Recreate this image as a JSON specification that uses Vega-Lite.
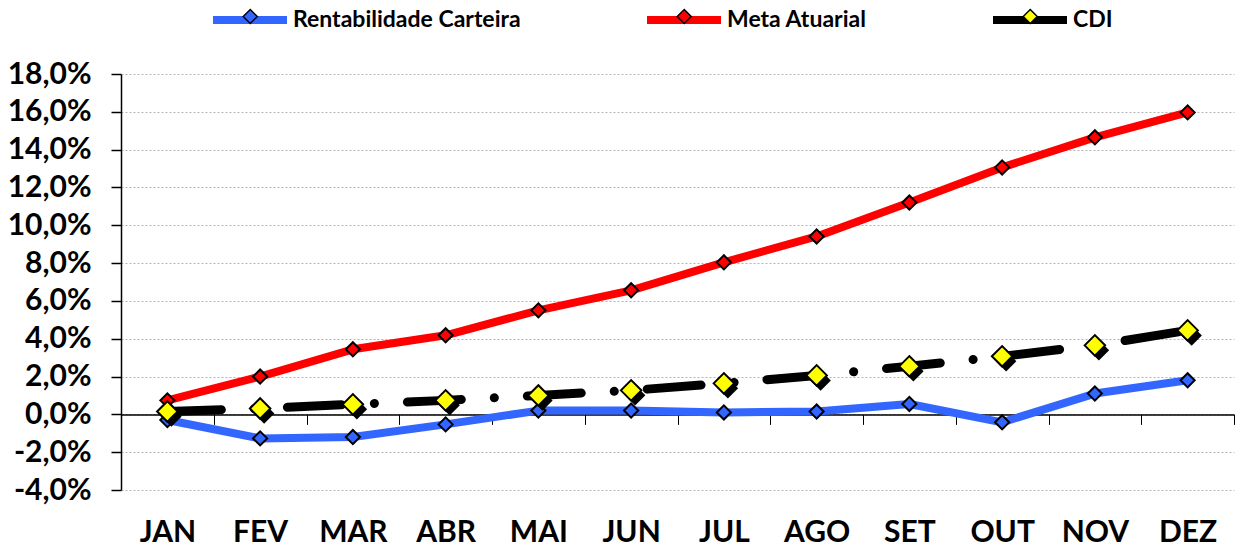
{
  "$schema": "https://vega.github.io/schema/vega-lite/v6.json",
  "width": 1113,
  "height": 416,
  "autosize": "none",
  "padding": {"left": 121, "top": 74, "right": 3, "bottom": 59},
  "background": "white",
  "config": {"view": {"stroke": null}, "font": "Lato"},
  "data": {
    "values": [
      {"mes": "JAN", "serie": "Rentabilidade Carteira", "valor": -0.3},
      {"mes": "FEV", "serie": "Rentabilidade Carteira", "valor": -1.27},
      {"mes": "MAR", "serie": "Rentabilidade Carteira", "valor": -1.2},
      {"mes": "ABR", "serie": "Rentabilidade Carteira", "valor": -0.53},
      {"mes": "MAI", "serie": "Rentabilidade Carteira", "valor": 0.2},
      {"mes": "JUN", "serie": "Rentabilidade Carteira", "valor": 0.2},
      {"mes": "JUL", "serie": "Rentabilidade Carteira", "valor": 0.1},
      {"mes": "AGO", "serie": "Rentabilidade Carteira", "valor": 0.15},
      {"mes": "SET", "serie": "Rentabilidade Carteira", "valor": 0.55},
      {"mes": "OUT", "serie": "Rentabilidade Carteira", "valor": -0.42},
      {"mes": "NOV", "serie": "Rentabilidade Carteira", "valor": 1.1},
      {"mes": "DEZ", "serie": "Rentabilidade Carteira", "valor": 1.8},
      {"mes": "JAN", "serie": "Meta Atuarial", "valor": 0.74},
      {"mes": "FEV", "serie": "Meta Atuarial", "valor": 2.0},
      {"mes": "MAR", "serie": "Meta Atuarial", "valor": 3.44},
      {"mes": "ABR", "serie": "Meta Atuarial", "valor": 4.18},
      {"mes": "MAI", "serie": "Meta Atuarial", "valor": 5.5},
      {"mes": "JUN", "serie": "Meta Atuarial", "valor": 6.56},
      {"mes": "JUL", "serie": "Meta Atuarial", "valor": 8.04},
      {"mes": "AGO", "serie": "Meta Atuarial", "valor": 9.41},
      {"mes": "SET", "serie": "Meta Atuarial", "valor": 11.2},
      {"mes": "OUT", "serie": "Meta Atuarial", "valor": 13.06},
      {"mes": "NOV", "serie": "Meta Atuarial", "valor": 14.65},
      {"mes": "DEZ", "serie": "Meta Atuarial", "valor": 15.97},
      {"mes": "JAN", "serie": "CDI", "valor": 0.15},
      {"mes": "FEV", "serie": "CDI", "valor": 0.31},
      {"mes": "MAR", "serie": "CDI", "valor": 0.53},
      {"mes": "ABR", "serie": "CDI", "valor": 0.74},
      {"mes": "MAI", "serie": "CDI", "valor": 1.0},
      {"mes": "JUN", "serie": "CDI", "valor": 1.27},
      {"mes": "JUL", "serie": "CDI", "valor": 1.64},
      {"mes": "AGO", "serie": "CDI", "valor": 2.06},
      {"mes": "SET", "serie": "CDI", "valor": 2.54},
      {"mes": "OUT", "serie": "CDI", "valor": 3.07},
      {"mes": "NOV", "serie": "CDI", "valor": 3.65},
      {"mes": "DEZ", "serie": "CDI", "valor": 4.44}
    ]
  },
  "encoding": {
    "x": {
      "field": "mes",
      "type": "ordinal",
      "sort": ["JAN", "FEV", "MAR", "ABR", "MAI", "JUN", "JUL", "AGO", "SET", "OUT", "NOV", "DEZ"],
      "scale": {"type": "band", "paddingInner": 0, "paddingOuter": 0},
      "axis": {
        "title": null,
        "orient": "bottom",
        "offset": -75.6,
        "domain": true,
        "domainColor": "black",
        "domainWidth": 1.5,
        "ticks": true,
        "tickBand": "extent",
        "tickColor": "black",
        "tickSize": 10,
        "tickWidth": 1,
        "grid": false,
        "labelAngle": 0,
        "labelFont": "Lato",
        "labelFontSize": 30,
        "labelFontWeight": "bold",
        "labelColor": "black",
        "labelPadding": 93
      }
    },
    "y": {
      "field": "valor",
      "type": "quantitative",
      "scale": {"domain": [-4, 18], "nice": false, "zero": false},
      "axis": {
        "title": null,
        "values": [-4, -2, 0, 2, 4, 6, 8, 10, 12, 14, 16, 18],
        "domain": true,
        "domainColor": "black",
        "domainWidth": 1.5,
        "ticks": true,
        "tickColor": "black",
        "tickSize": 10,
        "tickWidth": 1.5,
        "grid": true,
        "gridColor": "#b4b4b4",
        "gridDash": [2, 2],
        "gridWidth": 1,
        "labelFont": "Lato",
        "labelFontSize": 30,
        "labelFontWeight": "bold",
        "labelColor": "black",
        "labelPadding": 20,
        "labelExpr": "replace(replace(format(datum.value, '.1f'), '.', ','), '\u2212', '-') + '%'"
      }
    }
  },
  "resolve": {"scale": {"fill": "independent"}, "legend": {"fill": "independent"}},
  "layer": [
    {
      "transform": [{"filter": "datum.serie !== 'CDI'"}],
      "mark": {"type": "line", "strokeWidth": 8, "strokeCap": "round", "strokeJoin": "round"},
      "encoding": {
        "color": {
          "field": "serie",
          "type": "nominal",
          "scale": {
            "domain": ["Rentabilidade Carteira", "Meta Atuarial", "CDI"],
            "range": ["#3366ff", "#ff0000", "#000000"]
          },
          "legend": {
            "title": null,
            "orient": "none",
            "legendX": 88,
            "legendY": -95,
            "direction": "horizontal",
            "padding": 0,
            "symbolType": "stroke",
            "symbolSize": 5476,
            "symbolStrokeWidth": 8,
            "symbolDash": [1, 0],
            "labelFont": "Lato",
            "labelFontSize": 23,
            "labelFontWeight": "bold",
            "labelColor": "black",
            "labelOffset": 2,
            "labelLimit": 400,
            "columnPadding": 110
          }
        }
      }
    },
    {
      "transform": [{"filter": "datum.serie === 'Rentabilidade Carteira'"}],
      "mark": {"type": "point", "shape": "diamond", "filled": true, "size": 200, "stroke": "black", "strokeWidth": 2, "opacity": 1},
      "encoding": {
        "fill": {
          "field": "serie",
          "type": "nominal",
          "scale": {"domain": ["Rentabilidade Carteira"], "range": ["#3366ff"]},
          "legend": {
            "title": null,
            "orient": "none",
            "legendX": 118.25,
            "legendY": -68.5,
            "padding": 0,
            "symbolType": "M0,-0.7L0.7,0L0,0.7L-0.7,0Z",
            "symbolSize": 400,
            "symbolStrokeColor": "black",
            "symbolStrokeWidth": 1.5,
            "symbolOpacity": 1,
            "labelExpr": "''",
            "labelFontSize": 2
          }
        }
      }
    },
    {
      "transform": [{"filter": "datum.serie === 'Meta Atuarial'"}],
      "mark": {"type": "point", "shape": "diamond", "filled": true, "size": 200, "stroke": "black", "strokeWidth": 2, "opacity": 1},
      "encoding": {
        "fill": {
          "field": "serie",
          "type": "nominal",
          "scale": {"domain": ["Meta Atuarial"], "range": ["#ff0000"]},
          "legend": {
            "title": null,
            "orient": "none",
            "legendX": 552.25,
            "legendY": -68.5,
            "padding": 0,
            "symbolType": "M0,-0.7L0.7,0L0,0.7L-0.7,0Z",
            "symbolSize": 400,
            "symbolStrokeColor": "black",
            "symbolStrokeWidth": 1.5,
            "symbolOpacity": 1,
            "labelExpr": "''",
            "labelFontSize": 2
          }
        }
      }
    },
    {
      "transform": [{"filter": "datum.serie === 'CDI'"}],
      "mark": {"type": "line", "strokeWidth": 9, "strokeCap": "round", "strokeJoin": "round", "strokeDash": [54, 33, 0.1, 33]},
      "encoding": {
        "color": {"field": "serie", "type": "nominal"}
      }
    },
    {
      "transform": [{"filter": "datum.serie === 'CDI'"}],
      "mark": {"type": "point", "shape": "diamond", "filled": true, "size": 420, "color": "black", "opacity": 1, "xOffset": 4, "yOffset": 5}
    },
    {
      "transform": [{"filter": "datum.serie === 'CDI'"}],
      "mark": {"type": "point", "shape": "diamond", "filled": true, "size": 420, "stroke": "black", "strokeWidth": 2, "opacity": 1},
      "encoding": {
        "fill": {
          "field": "serie",
          "type": "nominal",
          "scale": {"domain": ["CDI"], "range": ["#ffff00"]},
          "legend": {
            "title": null,
            "orient": "none",
            "legendX": 898.25,
            "legendY": -68.5,
            "padding": 0,
            "symbolType": "M0,-0.7L0.7,0L0,0.7L-0.7,0Z",
            "symbolSize": 400,
            "symbolStrokeColor": "black",
            "symbolStrokeWidth": 1.5,
            "symbolOpacity": 1,
            "labelExpr": "''",
            "labelFontSize": 2
          }
        }
      }
    }
  ]
}
